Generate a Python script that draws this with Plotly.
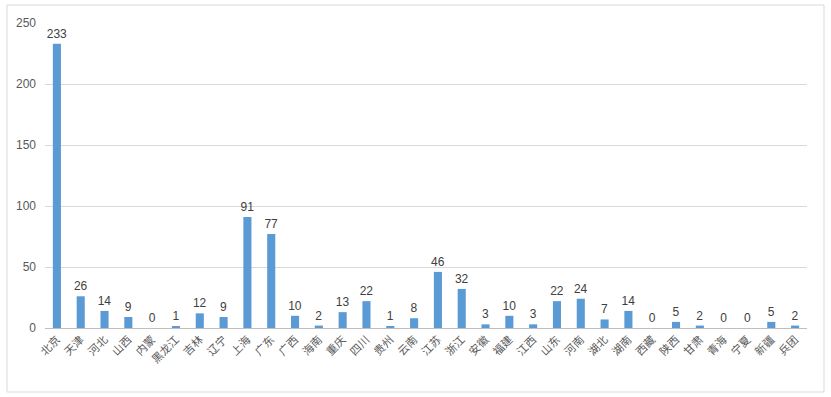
import plotly.graph_objects as go

categories = ["北京", "天津", "河北", "山西", "内蒙", "黑龙江", "吉林", "辽宁", "上海", "广东",
              "广西", "海南", "重庆", "四川", "贵州", "云南", "江苏", "浙江", "安徽", "福建",
              "江西", "山东", "河南", "湖北", "湖南", "西藏", "陕西", "甘肃", "青海", "宁夏",
              "新疆", "兵团"]
values = [233, 26, 14, 9, 0, 1, 12, 9, 91, 77,
          10, 2, 13, 22, 1, 8, 46, 32, 3, 10,
          3, 22, 24, 7, 14, 0, 5, 2, 0, 0,
          5, 2]
y_ticks = [0, 50, 100, 150, 200, 250]

W, H = 831, 397
ml, mr, mt, mb = 45, 24, 23, 69
pw, ph = W - ml - mr, H - mt - mb

fig = go.Figure(go.Bar(
    x=categories, y=values,
    marker=dict(color="#5B9BD5", line=dict(width=0)),
    text=[str(v) for v in values], textposition="outside",
    textfont=dict(size=12, color="#404040", family="Liberation Sans"),
    constraintext="none",
    cliponaxis=False,
))

fig.update_layout(
    width=W, height=H,
    margin=dict(l=ml, r=mr, t=mt, b=mb, autoexpand=False),
    paper_bgcolor="white", plot_bgcolor="white",
    bargap=0.66, showlegend=False,
    font=dict(family="Noto Sans CJK SC", size=11, color="#595959"),
    xaxis=dict(tickangle=-45, showline=True, linecolor="#BFBFBF", linewidth=1,
               ticks="", automargin=False, tickfont=dict(size=11, color="#595959")),
    yaxis=dict(range=[0, 250], tickvals=y_ticks, showgrid=True, gridcolor="#D9D9D9",
               zeroline=False, ticks="", ticklabelstandoff=8, automargin=False,
               tickfont=dict(size=12, color="#595959", family="Liberation Sans")),
    shapes=[dict(type="rect", xref="paper", yref="paper",
                 x0=(7 - ml) / pw, x1=(824 - ml) / pw,
                 y0=(mt + ph - 392) / ph, y1=(mt + ph - 5) / ph,
                 line=dict(color="#D9D9D9", width=1), fillcolor="rgba(0,0,0,0)", layer="below")],
)

fig.write_html("out.html", config={"displayModeBar": False},
               post_script="document.body.style.margin='0';document.body.style.overflow='hidden';")
